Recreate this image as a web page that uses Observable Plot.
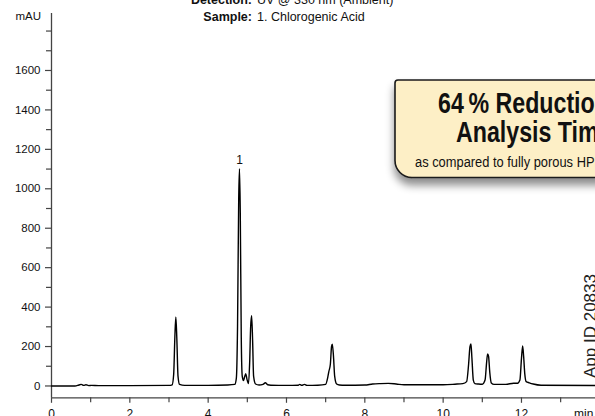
<!DOCTYPE html>
<html>
<head>
<meta charset="utf-8">
<script src="https://cdn.jsdelivr.net/npm/d3@7"></script>
<script src="https://cdn.jsdelivr.net/npm/@observablehq/plot@0.6"></script>
<style>
  html, body { margin: 0; padding: 0; background: #fff; overflow: hidden; }
  #chart { width: 595px; height: 416px; overflow: hidden; position: relative; }
  svg { font-family: "Liberation Sans", Arial, Helvetica, sans-serif; }
</style>
</head>
<body>
<div id="chart"></div>
<script>
// ---- data ----
const times = [
  0.00, 0.60, 0.70, 0.76, 0.82, 0.88, 0.95, 1.02, 1.20, 2.00, 3.00, 3.08, 3.12, 3.15, 3.175, 3.20, 3.23, 3.27, 3.40,
  4.00, 4.50, 4.68, 4.72, 4.75, 4.78, 4.80, 4.82, 4.845, 4.87, 4.90, 4.93, 4.96, 4.99, 5.03, 5.06, 5.085, 5.11, 5.135, 5.16, 5.21,
  5.30, 5.40, 5.46, 5.52, 5.60, 6.00, 6.30, 6.34, 6.39, 6.46, 6.52, 6.80, 7.00, 7.05, 7.08, 7.12, 7.15, 7.17, 7.20, 7.23, 7.28, 7.35,
  7.50, 8.00, 8.20, 8.40, 8.60, 8.80, 9.00, 10.00, 10.30, 10.50, 10.60, 10.65, 10.685, 10.71, 10.735, 10.77, 10.81, 10.90,
  11.00, 11.07, 11.11, 11.135, 11.16, 11.19, 11.23, 11.30, 11.60, 11.80, 11.90, 11.96, 12.00, 12.03, 12.055, 12.085, 12.12, 12.20,
  12.30, 12.50, 13.89
];
const mAU = [
  0, 0, 5, 8, 3, 6, 2, 3, 2, 2, 3, 6, 60, 250, 350, 240, 50, 8, 3,
  3, 5, 8, 40, 300, 950, 1102, 880, 250, 50, 28, 45, 62, 35, 12, 120, 300, 357, 230, 50, 10,
  5, 8, 16, 6, 4, 3, 4, 8, 3, 8, 3, 4, 8, 40, 72, 110, 200, 212, 150, 50, 10, 5,
  4, 5, 10, 12, 13, 10, 6, 6, 9, 12, 22, 110, 200, 213, 140, 30, 12, 10,
  9, 30, 120, 163, 150, 70, 15, 8, 8, 14, 14, 30, 140, 203, 150, 60, 22, 16,
  10, 4, 2
];
const peakNames = ["1"];
const peakTimes = [4.80];
const peakHeights = [1102];

const yMajorTicks = [0, 200, 400, 600, 800, 1000, 1200, 1400, 1600];
const yMinorTicks = [100, 300, 500, 700, 900, 1100, 1300, 1500, 1700, 1800];
const xMajorTicks = [0, 2, 4, 6, 8, 10, 12];
const xMinorTicks = [1, 3, 5, 7, 9, 11, 13];
const xTickLabels = ["0", "2", "4", "6", "8", "10", "12"];

const yUnit = "mAU";
const xUnit = "min";
const titleLabels = ["Detection:", "Sample:"];
const titleValues = ["UV @ 330 nm (Ambient)", "1. Chlorogenic Acid"];
const calloutLines = ["64\u2009% Reduction in", "Analysis Time"];
const calloutNote = "as compared to fully porous HPLC";
const appId = "App ID 20833";

// ---- build ----
const data = times.map((t, i) => ({t, v: mAU[i]}));
const peaks = peakNames.map((n, i) => ({n, t: peakTimes[i], v: peakHeights[i]}));
const xDomain = [0, 13.89];
const yDomain = [-60, 1889];
const axisColor = "#444";

const plot = Plot.plot({
  width: 595,
  height: 416,
  marginLeft: 51,
  marginRight: 0,
  marginTop: 13,
  marginBottom: 18.7,
  style: {fontFamily: '"Liberation Sans", Arial, sans-serif', fontSize: "11.5px", color: "#000", background: "#fff"},
  x: {domain: xDomain, axis: null},
  y: {domain: yDomain, axis: null},
  marks: [
    Plot.ruleX([0], {y1: yDomain[0], y2: yDomain[1], stroke: axisColor, strokeWidth: 1.3}),
    Plot.ruleY([yDomain[0]], {x1: xDomain[0], x2: xDomain[1], stroke: axisColor, strokeWidth: 1.3}),
    Plot.axisY(yMajorTicks, {anchor: "left", tickSize: 6, tickPadding: 5, stroke: axisColor, strokeWidth: 1.2, fontSize: 11.5, fill: "#111", tickFormat: d => String(d), label: null}),
    Plot.axisY(yMinorTicks, {anchor: "left", tickSize: 5, tickFormat: () => "", stroke: axisColor, strokeWidth: 1.2, label: null}),
    Plot.axisX(xMajorTicks, {anchor: "bottom", tickSize: 5.5, tickPadding: 6.5, stroke: axisColor, strokeWidth: 1.2, fontSize: 12, fill: "#111", tickFormat: (d, i) => xTickLabels[i], label: null}),
    Plot.axisX(xMinorTicks, {anchor: "bottom", tickSize: 5, tickFormat: () => "", stroke: axisColor, strokeWidth: 1.2, label: null}),
    Plot.line(data, {x: "t", y: "v", curve: "monotone-x", stroke: "#000", strokeWidth: 1.4}),
    Plot.text(peaks, {x: "t", y: "v", text: "n", dy: -9, fontSize: 12, fill: "#111"})
  ]
});

document.getElementById("chart").appendChild(plot);

// ---- annotations (title, units, callout) ----
const svg = d3.select(plot);

// unit labels
svg.append("text").attr("x", 41).attr("y", 20).attr("text-anchor", "end")
  .attr("font-size", 11.5).attr("fill", "#111").text(yUnit);
svg.append("text").attr("x", 574).attr("y", 418).attr("text-anchor", "start")
  .attr("font-size", 12).attr("fill", "#111").text(xUnit);

// title block
const titleBase = [3.5, 20.7];
titleLabels.forEach((lab, i) => {
  svg.append("text").attr("x", 252).attr("y", titleBase[i]).attr("text-anchor", "end")
    .attr("font-size", 12.5).attr("font-weight", "bold").attr("fill", "#111").text(lab);
  svg.append("text").attr("x", 257).attr("y", titleBase[i]).attr("text-anchor", "start")
    .attr("font-size", 12.5).attr("fill", "#111").text(titleValues[i]);
});

// callout box with shadow
const defs = svg.append("defs");
const f = defs.append("filter").attr("id", "sh").attr("x", "-20%").attr("y", "-20%").attr("width", "140%").attr("height", "160%");
f.append("feDropShadow").attr("dx", 0).attr("dy", 7).attr("stdDeviation", 4)
  .attr("flood-color", "#000").attr("flood-opacity", 0.45);

const bx = 395, by = 80, bb = 177.5, rTL = 3, rBL = 17;
svg.append("path")
  .attr("d", `M ${bx + rTL} ${by} H 660 V ${bb} H ${bx + rBL} A ${rBL} ${rBL} 0 0 1 ${bx} ${bb - rBL} V ${by + rTL} A ${rTL} ${rTL} 0 0 1 ${bx + rTL} ${by} Z`)
  .attr("fill", "#fdefc6").attr("stroke", "#1a1a1a").attr("stroke-width", 1.6)
  .attr("filter", "url(#sh)");

const calloutPos = [[438, 113.3], [456, 141.7]];
calloutLines.forEach((line, i) => {
  svg.append("text")
    .attr("transform", `translate(${calloutPos[i][0]},${calloutPos[i][1]}) scale(0.8,1)`)
    .attr("text-anchor", "start")
    .attr("font-size", 29).attr("font-weight", "bold").attr("fill", "#111").text(line);
});
svg.append("text")
  .attr("transform", `translate(415,166.7) scale(0.92,1)`)
  .attr("text-anchor", "start")
  .attr("font-size", 14).attr("fill", "#111").text(calloutNote);

// vertical app id
svg.append("text")
  .attr("transform", "translate(596,378) rotate(-90)")
  .attr("text-anchor", "start")
  .attr("font-size", 17).attr("fill", "#222").text(appId);
</script>
</body>
</html>
